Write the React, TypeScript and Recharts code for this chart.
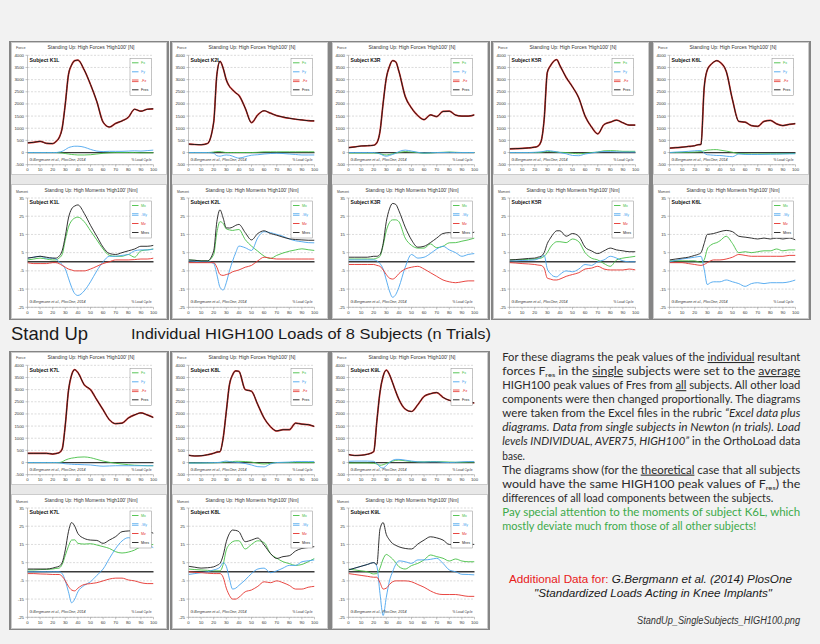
import React from 'react';
import { LineChart, Line, XAxis, YAxis, CartesianGrid, ReferenceLine } from 'recharts';

// ---------- shared axes ----------
const X = [0, 5, 10, 15, 20, 22.5, 25, 27.5, 30, 32.5, 35, 37.5, 40, 45, 50, 55, 60, 65, 70, 75, 80, 85, 90, 95, 100];
const X_TICKS = [0, 10, 20, 30, 40, 50, 60, 70, 80, 90, 100];
const FORCE_TICKS = [-500, 0, 500, 1000, 1500, 2000, 2500, 3000, 3500, 4000];
const MOMENT_TICKS = [-25, -15, -5, 5, 15, 25, 35];

// ---------- K1L ----------
const K1L_FRES = [400, 420, 460, 380, 370, 450, 600, 1000, 2000, 3200, 3600, 3780, 3800, 3400, 2800, 2100, 1250, 1050, 1200, 1300, 1450, 1780, 1700, 1780, 1800];
const K1L_FX = [0, 0, 0, 0, 0, 0, -10, -20, -40, -60, -80, -90, -100, -100, -90, -60, -30, -10, 0, 0, 0, 0, -10, -10, -10];
const K1L_FY = [0, 0, 0, 0, 0, 0, 20, 50, 120, 200, 240, 260, 260, 220, 130, 60, 40, 50, 50, 50, 60, 70, 60, 80, 100];
const K1L_MRES = [2, 2.5, 3, 2.5, 2, 2, 3, 6, 14, 24, 29, 30.6, 31.2, 26.6, 20, 14, 8, 4.5, 4, 5, 6, 7, 8.5, 8.5, 9];
const K1L_MX = [1, 1.5, 2, 1.5, 1, 1, 2, 4, 12, 19, 22.5, 24, 24.5, 22, 17, 12, 7, 3.5, 3, 3, 4, 2.5, 6, 6.5, 7];
const K1L_MY = [2, 2.5, 3, 2, 2, 1.5, 0, -1.5, -4, -9, -14, -17.5, -18.5, -16, -11, -5, 0, 3, 3, 3.5, 4, 6, 6.5, 6.5, 7];
const K1L_MZ = [-0.5, -1, -1, -1, -0.5, -0.5, -1, -2, -3, -4, -4.5, -5, -5, -5, -4, -2.5, -1, 0, 1, 1, 1, 1.2, 1.5, 1.5, 2];

// ---------- K2L ----------
const K2L_FRES = [350, 330, 320, 370, 1250, 3200, 3750, 3470, 2990, 2720, 2580, 2450, 2350, 1830, 1230, 1550, 1720, 1620, 1520, 1460, 1410, 1370, 1340, 1310, 1300];
const K2L_FX = [0, 0, 0, 0, 20, 40, 40, 20, 0, 0, 0, 0, 0, 0, 0, 10, 30, 30, 30, 30, 30, 30, 30, 30, 30];
const K2L_FY = [0, 0, 0, 0, -30, -130, -150, -120, -100, -110, -150, -200, -230, -170, -110, -90, -60, -40, -30, -40, -60, -80, -100, -100, -100];
const K2L_MRES = [1, 0.8, 0.5, 0.5, 6, 22, 28.5, 24, 18.6, 18.5, 19, 20, 20.5, 16, 12, 15.5, 17, 15.5, 14.6, 13.5, 12.6, 12.2, 12, 11.8, 11.8];
const K2L_MX = [1, 0.8, 0.5, 0.5, 4, 16, 22, 21, 18, 17.5, 17.2, 17.5, 17.7, 12.2, 8.6, 5.8, 3.1, 1.8, 3.5, 4.8, 5.8, 6.5, 7.1, 6.6, 6.2];
const K2L_MY = [0.5, 0.3, 0, 0, -1, -7, -14, -15.5, -11.5, -5, 0.4, 5, 8.6, 7.7, 6.2, 13.2, 16.5, 16, 15, 14, 12.5, 11.5, 11, 10.5, 10.4];
const K2L_MZ = [-0.5, -0.5, -0.5, -0.5, -0.5, -3, -7, -7.5, -7, -6.5, -5.5, -5, -4.5, -3, -2, 0.5, 2.5, 2, 1.5, 1.5, 1.5, 1.5, 1.5, 1.5, 1.5];

// ---------- K3R ----------
const K3R_FRES = [200, 230, 270, 280, 300, 400, 870, 2030, 3060, 3540, 3780, 3730, 3340, 2310, 1830, 1520, 1350, 1550, 1480, 1690, 1700, 1540, 1500, 1500, 1550];
const K3R_FX = [-20, -20, -20, -20, -20, -30, -50, -80, -100, -80, -50, -20, 0, 40, 20, 0, -30, -20, 0, 10, 20, 10, 0, 0, 0];
const K3R_FY = [0, 0, 0, 0, 0, -20, -50, -120, -150, -120, -80, -30, 40, 100, 60, 10, -20, -10, 0, 0, 10, 0, 0, 0, 0];
const K3R_MRES = [2.5, 2.5, 2.5, 2.5, 3, 3, 4, 10, 22, 29, 32, 31.5, 28, 19, 12, 8, 8.5, 10.5, 13, 15.5, 16, 15.5, 15.5, 15.5, 16.3];
const K3R_MX = [1.5, 1.5, 1.5, 1.5, 1.5, 2, 3, 9, 17, 21.5, 23, 23, 22, 13, 9, 7.5, 7.5, 9.8, 7.7, 8.5, 10.4, 10.5, 11.3, 12, 13];
const K3R_MY = [1, 1, 1, 1, 1, 0.5, -1, -4, -10, -16, -19.5, -18, -14, -3, 4, 2, 2.5, 4.5, 7, 8.5, 6.5, 5, 3, 4, 4.5];
const K3R_MZ = [-1.5, -1.5, -1.5, -1.5, -1.5, -2, -2.5, -4.5, -7, -9, -9.5, -8.5, -6.5, -4, -3, -2.5, -4, -6, -8, -10, -11, -11.5, -11, -10.5, -10.5];

// ---------- K5R ----------
const K5R_FRES = [150, 160, 170, 190, 220, 260, 450, 1360, 3290, 3570, 3750, 3820, 3580, 3085, 2700, 2245, 1500, 1060, 770, 1150, 1250, 1330, 1225, 1130, 1130];
const K5R_FX = [0, 0, 0, 0, 0, 0, 10, 30, 50, 40, 30, 20, 10, 0, -30, -50, -30, 0, 20, 70, 80, 70, 50, 50, 50];
const K5R_FY = [0, 0, 0, 0, 10, 20, 30, 50, 80, 70, 50, 30, 0, -50, -120, -130, -60, -20, 20, 40, 40, 30, 20, 20, 20];
const K5R_MRES = [1, 1.2, 1.5, 1.8, 2, 2.5, 3, 5, 10, 13, 15.5, 17, 17, 14, 15.5, 14, 8, 6, 4.5, 6, 7.5, 6.5, 6, 5.5, 5.5];
const K5R_MX = [1, 1, 1.2, 1.3, 1.5, 1.8, 2, 3, 5, 8, 10, 11, 11, 10.5, 12.5, 11, 5, 2, 1, -1, -2.5, 1, 2, 2.5, 3];
const K5R_MY = [0.5, 0.5, 0.7, 0.8, 1, 1.5, 2.5, 3.5, -4, -6.5, -8, -8.3, -7, -5, -5.5, -4, -1.5, -2, 0, 1, 3, 2, 0.5, 0, 0];
const K5R_MZ = [-0.5, -0.7, -1, -1.2, -1.5, -1.8, -2, -3.5, -9, -9.5, -10, -10, -9.5, -8, -7, -6, -4, -3.5, -2.5, -4, -4.5, -4.5, -4.5, -4, -4.5];

// ---------- K6L ----------
const K6L_FRES = [180, 200, 220, 250, 280, 320, 330, 2650, 3400, 3600, 3720, 3780, 3720, 3340, 2170, 1280, 1250, 1110, 1080, 1280, 1320, 1180, 1110, 1160, 1190];
const K6L_FX = [0, 0, 10, 10, 20, 30, 40, 70, 100, 110, 120, 120, 100, 60, 10, -40, -50, -60, -60, -55, -50, -50, -45, -40, -40];
const K6L_FY = [0, 20, 30, 50, 70, 80, 80, -20, -90, -100, -110, -120, -120, -150, -170, -60, -80, -80, -80, -75, -70, -65, -60, -55, -50];
const K6L_MRES = [1, 1.5, 2, 2.5, 3.5, 4, 5, 10, 15, 15.2, 15.5, 16, 16.5, 17.2, 16.5, 14, 13.5, 13, 12.5, 13, 12.5, 13, 12.5, 13, 12];
const K6L_MX = [0.5, 0.5, 0.5, 0.5, 0.5, 0, -0.5, 1, 7, 9, 10, 10.5, 11.5, 14, 10, 5, 5.5, 5, 5.5, 6, 6, 7, 6, 6.5, 6.5];
const K6L_MY = [0, 0.8, 1.5, 2, 2.5, 2.8, 3, -4, -12.5, -11.5, -11, -11, -11, -10, -11, -12, -13.5, -12, -11.5, -12, -11.5, -11.5, -11.5, -11, -10];
const K6L_MZ = [-0.5, -0.5, -0.5, -1, -1.5, -1.8, -2, -1.5, -0.5, 0.5, 1, 1, 1, 1.5, 2.5, 4, 3.5, 3, 3, 3, 3, 3, 3, 3.5, 3.5];

// ---------- K7L ----------
const K7L_FRES = [380, 380, 380, 380, 350, 370, 400, 550, 1550, 2950, 3600, 3820, 3700, 3200, 3000, 2580, 2170, 1760, 1600, 1620, 1830, 1960, 2040, 1960, 1850];
const K7L_FX = [0, 0, 0, 0, 0, 0, 0, 30, 100, 150, 180, 200, 220, 230, 200, 130, 60, 10, -30, -60, -90, -110, -120, -130, -130];
const K7L_FY = [0, 0, 0, 0, 0, 0, -10, -30, -50, -60, -70, -80, -80, -90, -100, -130, -150, -140, -130, -130, -130, -130, -130, -130, -130];
const K7L_MRES = [1.5, 1.5, 1.5, 1.5, 2, 2.5, 3, 5, 12, 22, 27, 25, 21, 18.3, 17.4, 17.2, 15.6, 17.4, 19.3, 22, 22.4, 22.6, 22.9, 22.4, 21.1];
const K7L_MX = [1, 1, 1.2, 1.3, 1.5, 1.8, 2, 4, 9, 14, 17.4, 17.5, 15.6, 15.2, 15.4, 14.7, 13.8, 12.8, 11, 10.3, 10.8, 11.9, 13.8, 14.5, 15];
const K7L_MY = [0, 0, 0, 0, 0, 0, 0, -1, -5, -11, -17, -15, -11, -7.5, -5.5, -2, 1.5, 7.3, 12.8, 16.9, 18.7, 18, 16.5, 15, 13.2];
const K7L_MZ = [-1, -1, -1.2, -1.3, -1.5, -1.5, -1.5, -2.5, -5, -8, -10, -10.5, -9, -7, -6.5, -6, -5, -4, -3.5, -3.5, -4.5, -5, -6, -6.5, -6.5];

// ---------- K8L ----------
const K8L_FRES = [300, 270, 280, 320, 380, 430, 450, 1000, 2100, 3200, 3610, 3770, 3750, 3000, 2930, 2380, 1830, 1480, 1300, 1350, 1350, 1620, 1580, 1560, 1480];
const K8L_FX = [-20, -20, -20, -15, -10, -5, 0, 10, 20, 30, 40, 50, 50, 40, 20, -30, -60, -30, 0, 0, 0, 0, 0, 0, 0];
const K8L_FY = [-20, -20, -15, -10, -5, 0, 10, 40, 60, 40, 20, 10, 0, -40, -100, -170, -180, -60, 0, 10, 20, 40, 40, 40, 40];
const K8L_MRES = [3, 2.5, 2, 2.2, 2.7, 3.5, 4.6, 9, 16.5, 21, 22.9, 22.7, 22, 16.5, 17.4, 18.5, 14.7, 10.1, 7.3, 8.3, 8.8, 11.4, 12.8, 13.3, 13.8];
const K8L_MX = [1.5, 1.2, 1, 0.8, 0.5, 0.5, 0.5, 4, 12, 15, 16.5, 17, 17, 12.5, 15, 17, 16, 10, 7.5, 5.5, 4.5, 3.5, 4, 5.5, 7.3];
const K8L_MY = [-1.5, -1, -0.5, 0, 1, 1.5, 2.5, 5, 3, -4, -9.5, -9, -7.5, -4.5, -1, 1.5, 2, -0.5, 0.5, 2, 3.5, 3.5, 5.5, 6, 6.5];
const K8L_MZ = [0, -0.3, -0.5, -0.8, -1, -1, -1, -3, -9, -13, -15, -15, -14, -11, -10, -8, -5.5, -6, -5, -6, -7.5, -9.5, -9.5, -8.5, -8];

// ---------- K9L ----------
const K9L_FRES = [330, 290, 300, 340, 450, 1700, 2900, 3550, 3800, 3620, 3280, 2920, 2600, 2200, 2100, 2380, 2720, 2830, 2880, 2680, 2560, 2520, 2470, 2480, 2450];
const K9L_FX = [-20, -20, -20, -20, -30, -60, -110, -90, -40, 10, 60, 90, 100, 70, 40, 30, 30, 40, 40, 30, 20, 10, 10, 20, 20];
const K9L_FY = [50, 60, 60, 60, 50, -50, -180, -230, -120, 0, 90, 130, 130, 100, 60, 30, 20, 30, 30, 10, 0, 10, 30, 40, 40];
const K9L_MRES = [1, 2, 3, 4, 5, 4, 23.5, 27, 20.5, 17.5, 15.5, 14.5, 13.7, 12.8, 12.5, 15.2, 17.4, 19.2, 18.6, 17.4, 15, 15, 15.3, 15.2, 15];
const K9L_MX = [1.5, 1, 0.5, 0, -1.2, -1, 2, 7, 9.5, 8.5, 7, 5, 2.8, 1.5, 3.4, 4.6, 6.5, 9.2, 8.3, 7.4, 5.9, 7, 5.9, 5.5, 5.5];
const K9L_MY = [1, 2, 3, 4, 5, 3, -12, -24, -14, -5, 0, 4, 6, 5.5, 4.6, 6.5, 6.5, 6.8, 7.4, 4.6, 1, 0, -1.4, -1.5, -1.7];
const K9L_MZ = [-1, -1.5, -2, -2.5, -3, -3, -6, -9.5, -9, -7, -5.5, -5, -5, -5, -5.5, -7, -8.5, -10.5, -12, -12.5, -12.5, -12.5, -13, -13.5, -13.5];

// ---------- texts ----------
const FORCE_TITLE = "Standing Up: High Forces 'High100' [N]";
const MOMENT_TITLE = "Standing Up: High Moments 'High100' [Nm]";
const FORCE_LEGEND = ['Fx', 'Fy', '-Fz', 'Fres'];
const MOMENT_LEGEND = ['Mx', '-My', 'Mz', 'Mres'];
const CREDIT = 'G.Bergmann et al., PlosOne, 2014';
const XLABEL = '% Load Cycle';

const GREEN = '#45c045';
const BLUE = '#4aa5ee';
const RED = '#e5322c';
const BLACK = '#1c1c1c';
const FONT = '"Liberation Sans", Arial, sans-serif';

type PanelDef = {
  id: string; col: number; row: number;
  fres: number[]; fx: number[]; fy: number[];
  mres: number[]; mx: number[]; my: number[]; mz: number[];
};

const PANELS: PanelDef[] = [
  { id: 'K1L', col: 0, row: 0, fres: K1L_FRES, fx: K1L_FX, fy: K1L_FY, mres: K1L_MRES, mx: K1L_MX, my: K1L_MY, mz: K1L_MZ },
  { id: 'K2L', col: 1, row: 0, fres: K2L_FRES, fx: K2L_FX, fy: K2L_FY, mres: K2L_MRES, mx: K2L_MX, my: K2L_MY, mz: K2L_MZ },
  { id: 'K3R', col: 2, row: 0, fres: K3R_FRES, fx: K3R_FX, fy: K3R_FY, mres: K3R_MRES, mx: K3R_MX, my: K3R_MY, mz: K3R_MZ },
  { id: 'K5R', col: 3, row: 0, fres: K5R_FRES, fx: K5R_FX, fy: K5R_FY, mres: K5R_MRES, mx: K5R_MX, my: K5R_MY, mz: K5R_MZ },
  { id: 'K6L', col: 4, row: 0, fres: K6L_FRES, fx: K6L_FX, fy: K6L_FY, mres: K6L_MRES, mx: K6L_MX, my: K6L_MY, mz: K6L_MZ },
  { id: 'K7L', col: 0, row: 1, fres: K7L_FRES, fx: K7L_FX, fy: K7L_FY, mres: K7L_MRES, mx: K7L_MX, my: K7L_MY, mz: K7L_MZ },
  { id: 'K8L', col: 1, row: 1, fres: K8L_FRES, fx: K8L_FX, fy: K8L_FY, mres: K8L_MRES, mx: K8L_MX, my: K8L_MY, mz: K8L_MZ },
  { id: 'K9L', col: 2, row: 1, fres: K9L_FRES, fx: K9L_FX, fy: K9L_FY, mres: K9L_MRES, mx: K9L_MX, my: K9L_MY, mz: K9L_MZ },
];

// ---------- geometry ----------
const CHART_W = 154;
const PLOT_L = 15.5;
const PLOT_W = 126;
const PLOT_R = PLOT_L + PLOT_W;

function SubChart({ kind, left, top, p }: { kind: 'force' | 'moment'; left: number; top: number; p: PanelDef }) {
  const isF = kind === 'force';
  const H = isF ? 131 : 133;
  const T = isF ? 12.3 : 13;
  const XH = isF ? 9.3 : 10.7;
  const B = H - XH;
  const data = X.map((x, i) =>
    isF
      ? { x, a: p.fx[i], b: p.fy[i], c: p.fres[i], d: p.fres[i] }
      : { x, a: p.mx[i], b: p.my[i], c: p.mz[i], d: p.mres[i] }
  );
  const legend = isF ? FORCE_LEGEND : MOMENT_LEGEND;
  const legColors = [GREEN, BLUE, RED, BLACK];
  const doubleIdx = isF ? 2 : 1;
  const bx = PLOT_R - 23.5;
  const by = T + 3;
  const tick = { fontSize: 4.3, fill: '#333' };
  return (
    <div style={{ position: 'absolute', left, top, width: CHART_W, height: H, background: '#ffffff', boxShadow: '0 0 0 1px #cbcbcb', fontFamily: FONT }}>
      <LineChart width={CHART_W} height={H} data={data} margin={{ top: T, right: CHART_W - PLOT_R, bottom: 0, left: 0 }}>
        <CartesianGrid vertical={false} strokeDasharray="2 1.5" stroke="#c2c2c2" strokeWidth={0.6} />
        <XAxis dataKey="x" type="number" domain={[0, 100]} ticks={X_TICKS} interval={0} height={XH}
          tick={tick} tickSize={2} tickMargin={1.2} stroke="#9a9a9a" strokeWidth={0.6} allowDataOverflow />
        <YAxis type="number" domain={isF ? [-500, 4000] : [-25, 35]} ticks={isF ? FORCE_TICKS : MOMENT_TICKS}
          interval={0} width={PLOT_L} tick={tick} tickSize={2} tickMargin={1.5} stroke="#9a9a9a" strokeWidth={0.6} allowDataOverflow />
        <ReferenceLine y={0} stroke="#3a3a3a" strokeWidth={1.3} />
        <Line dataKey="a" type="monotone" stroke={GREEN} strokeWidth={0.9} dot={false} isAnimationActive={false} />
        <Line dataKey="b" type="monotone" stroke={BLUE} strokeWidth={0.9} dot={false} isAnimationActive={false} />
        <Line dataKey="c" type="monotone" stroke={RED} strokeWidth={isF ? 1.7 : 0.9} dot={false} isAnimationActive={false} />
        <Line dataKey="d" type="monotone" stroke={BLACK} strokeWidth={isF ? 1.0 : 0.9} dot={false} isAnimationActive={false} />
      </LineChart>
      <svg width={CHART_W} height={H} style={{ position: 'absolute', left: 0, top: 0, overflow: 'visible', pointerEvents: 'none' }} fontFamily={FONT}>
        <text x={79} y={isF ? 5.8 : 7.3} textAnchor="middle" fontSize={6.2} fill="#333" textLength={isF ? 87 : 93} lengthAdjust="spacingAndGlyphs">
          {isF ? FORCE_TITLE : MOMENT_TITLE}
        </text>
        <text x={4} y={isF ? 6.3 : 8} fontSize={3.4} fill="#444" textLength={isF ? 9.5 : 12} lengthAdjust="spacingAndGlyphs">
          {isF ? 'Force' : 'Moment'}
        </text>
        <text x={PLOT_L + 2} y={T + 6.3} fontSize={5.2} fontWeight="bold" fill="#111" textLength={30} lengthAdjust="spacingAndGlyphs">
          {'Subject ' + p.id}
        </text>
        <rect x={bx} y={by} width={21.5} height={37} fill="#fff" stroke="#8a8a8a" strokeWidth={0.5} />
        {legend.map((lab, k) => {
          const yy = by + 4.5 + k * 9;
          return (
            <g key={k}>
              {k === doubleIdx ? (
                <g>
                  <line x1={bx + 2} x2={bx + 8.5} y1={yy - 0.8} y2={yy - 0.8} stroke={legColors[k]} strokeWidth={0.8} />
                  <line x1={bx + 2} x2={bx + 8.5} y1={yy + 0.8} y2={yy + 0.8} stroke={legColors[k]} strokeWidth={0.8} />
                </g>
              ) : (
                <line x1={bx + 2} x2={bx + 8.5} y1={yy} y2={yy} stroke={legColors[k]} strokeWidth={0.9} />
              )}
              <text x={bx + 11} y={yy + 1.3} fontSize={3.6} fill={k === 3 ? '#222' : legColors[k]}>{lab}</text>
            </g>
          );
        })}
        <text x={PLOT_L + 2} y={B - 4} fontSize={3.6} fontStyle="italic" fill="#333" textLength={56} lengthAdjust="spacingAndGlyphs">{CREDIT}</text>
        <text x={PLOT_R - 2} y={B - 4} textAnchor="end" fontSize={3.6} fill="#333" textLength={20} lengthAdjust="spacingAndGlyphs">{XLABEL}</text>
      </svg>
    </div>
  );
}

function Panel({ p }: { p: PanelDef }) {
  const fx0 = 9 + 160.6 * p.col;
  const fy0 = p.row === 0 ? 41 : 351;
  return (
    <>
      <div style={{ position: 'absolute', left: fx0, top: fy0, width: 160, height: 279, boxSizing: 'border-box', border: '2px solid #858585', background: '#e8e8e8' }} />
      <SubChart kind="force" left={fx0 + 3} top={fy0 + 2} p={p} />
      <SubChart kind="moment" left={fx0 + 3} top={fy0 + 144} p={p} />
    </>
  );
}

const PX = 502.3;
const PB0 = 361;
const PSTEP = 14.08;
const FULLW = 298;

function PLine({ k, w, color, children }: { k: number; w?: number; color?: string; children: React.ReactNode }) {
  return (
    <text x={PX} y={PB0 + k * PSTEP} fontFamily="Lato, 'Open Sans', sans-serif" fontSize={10.6} fill={color || '#2a2a2a'}
      {...(w ? { textLength: w, lengthAdjust: 'spacingAndGlyphs' } : {})}>
      {children}
    </text>
  );
}

const U = ({ children }: { children: React.ReactNode }) => <tspan style={{ textDecoration: 'underline' }}>{children}</tspan>;
const I = ({ children }: { children: React.ReactNode }) => <tspan fontStyle="italic">{children}</tspan>;

export default function App() {
  return (
    <div style={{ position: 'absolute', left: 0, top: 0, width: 820, height: 644, background: '#f2f2f2', overflow: 'hidden', fontFamily: FONT }}>
      {PANELS.map((p) => <Panel key={p.id} p={p} />)}
      <svg width={820} height={644} style={{ position: 'absolute', left: 0, top: 0, pointerEvents: 'none' }}>
        <text x={11} y={340} fontFamily={FONT} fontSize={17.7} fill="#1a1a1a" textLength={77} lengthAdjust="spacingAndGlyphs">Stand Up</text>
        <text x={131} y={339} fontFamily={FONT} fontSize={14} fill="#1a1a1a" textLength={360} lengthAdjust="spacingAndGlyphs">Individual HIGH100 Loads of 8 Subjects (n Trials)</text>

        <PLine k={0} w={FULLW}>For these diagrams the peak values of the <U>individual</U> resultant</PLine>
        <PLine k={1} w={FULLW}>forces F<tspan fontSize={6.5} dy={2}>res</tspan><tspan dy={-2}> in the </tspan><U>single</U> subjects were set to the <U>average</U></PLine>
        <PLine k={2} w={FULLW}>HIGH100 peak values of Fres from <U>all</U> subjects. All other load</PLine>
        <PLine k={3} w={FULLW}>components were then changed proportionally. The diagrams</PLine>
        <PLine k={4} w={FULLW}>were taken from the Excel files in the rubric <I>“Excel data plus</I></PLine>
        <PLine k={5} w={FULLW}><I>diagrams. Data from single subjects in Newton (n trials). Load</I></PLine>
        <PLine k={6} w={FULLW}><I>levels INDIVIDUAL, AVER75, HIGH100”</I> in the OrthoLoad data</PLine>
        <PLine k={7} w={22.7}>base.</PLine>
        <PLine k={8} w={FULLW}>The diagrams show (for the <U>theoretical</U> case that all subjects</PLine>
        <PLine k={9} w={FULLW}>would have the same HIGH100 peak values of F<tspan fontSize={6.5} dy={2}>res</tspan><tspan dy={-2}>) the</tspan></PLine>
        <PLine k={10} w={271}>differences of all load components between the subjects.</PLine>
        <PLine k={11} w={FULLW} color="#3daa4a">Pay special attention to the moments of subject K6L, which</PLine>
        <PLine k={12} w={254} color="#3daa4a">mostly deviate much from those of all other subjects!</PLine>

        <text x={509} y={583.3} fontFamily={FONT} fontSize={11.5} textLength={283} lengthAdjust="spacingAndGlyphs">
          <tspan fill="#e8201a">Additional Data for: </tspan>
          <tspan fill="#1a1a1a" fontStyle="italic">G.Bergmann et al. (2014) PlosOne</tspan>
        </text>
        <text x={534} y={597.3} fontFamily={FONT} fontSize={11.5} fontStyle="italic" fill="#1a1a1a" textLength={238} lengthAdjust="spacingAndGlyphs">
          "Standardized Loads Acting in Knee Implants"
        </text>
        <text x={637} y={624} fontFamily={FONT} fontSize={10} fontStyle="italic" fill="#333" textLength={163} lengthAdjust="spacingAndGlyphs">
          StandUp_SingleSubjects_HIGH100.png
        </text>
      </svg>
    </div>
  );
}
